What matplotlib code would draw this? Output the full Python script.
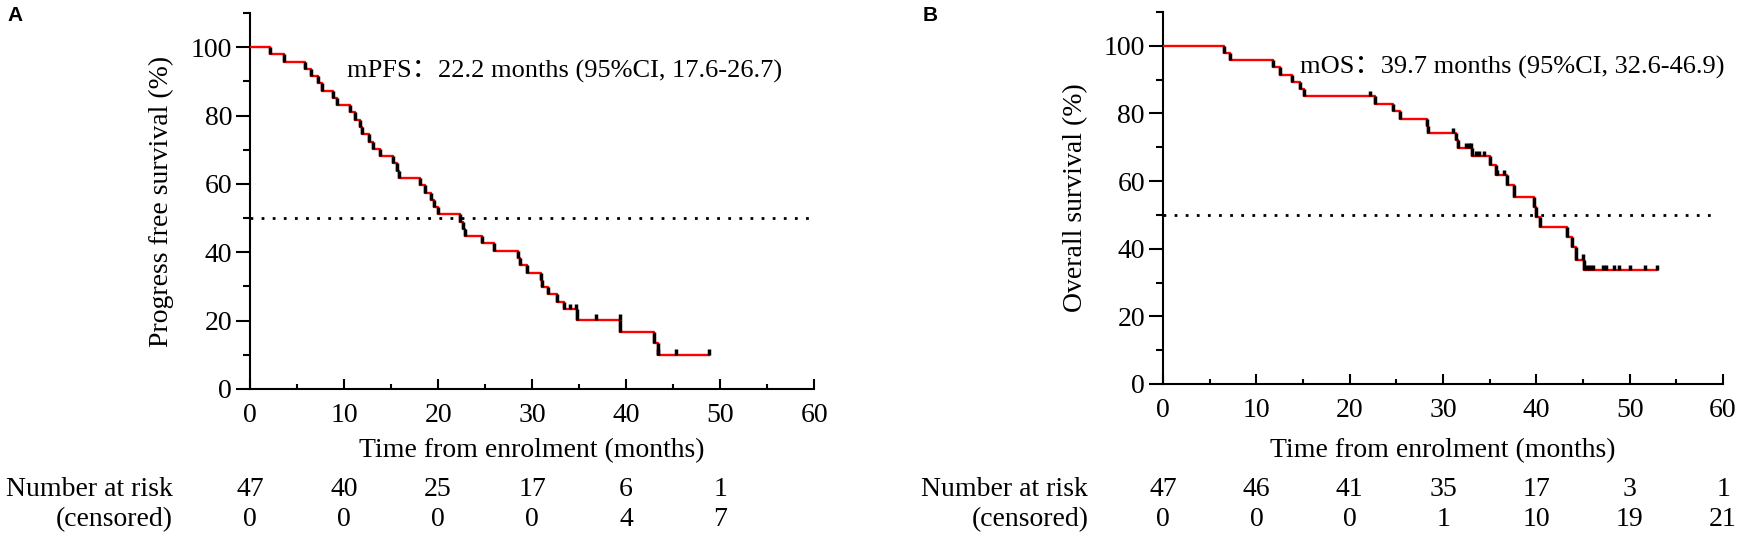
import matplotlib.pyplot as plt
import numpy as np
from matplotlib.transforms import blended_transform_factory

plt.rcParams['font.family'] = ['Liberation Serif', 'Noto Sans CJK SC']

# --- panel A: progression free survival (step times in months, survival %)
pfs_time = [0, 2.1, 3.65, 5.85, 6.5, 7.2, 7.7, 8.87, 9.2, 10.6, 11.2, 11.7, 11.9,
            12.6, 13.1, 13.8, 15.25, 15.6, 15.8, 18.1, 18.6, 19.2, 19.6, 20.0,
            22.3, 22.6, 22.9, 24.65, 25.9, 28.5, 28.7, 29.5, 30.9, 31.1, 31.7,
            32.6, 33.4, 34.8, 39.4, 43.0, 43.4]
pfs_surv = [100, 97.9, 95.7, 93.6, 91.5, 89.4, 87.2, 85.1, 83.0, 80.9, 78.7, 76.6,
            74.5, 72.3, 70.2, 68.1, 66.0, 63.8, 61.7, 59.6, 57.4, 55.3, 53.2, 51.1,
            48.9, 46.8, 44.7, 42.6, 40.4, 38.3, 36.2, 34.0, 31.9, 29.8, 27.7, 25.5,
            23.4, 20.2, 16.6, 13.6, 10.0]
pfs_end = 48.8
pfs_cens = [34.0, 34.7, 36.8, 39.3, 43.4, 45.3, 48.8]
pfs_risk = [47, 40, 25, 17, 6, 1]
pfs_censored = [0, 0, 0, 0, 4, 7]

# --- panel B: overall survival
os_time = [0, 6.54, 7.2, 11.75, 12.5, 13.8, 14.65, 15.1, 22.7, 24.6, 25.35, 28.25,
           28.4, 31.4, 31.6, 33.1, 35.0, 35.7, 36.8, 37.6, 39.7, 40.0, 40.4, 43.25,
           43.8, 44.2, 45.1]
os_surv = [100, 97.9, 95.7, 93.6, 91.5, 89.4, 87.2, 85.1, 82.9, 80.7, 78.5, 76.3,
           74.2, 72.2, 69.8, 67.3, 64.8, 61.8, 58.9, 55.4, 52.4, 49.3, 46.4, 43.5,
           40.5, 36.8, 33.6]
os_end = 52.9
os_cens = [22.2, 31.1, 32.5, 32.8, 33.0, 33.5, 33.9, 34.4, 35.8, 36.5, 45.0, 45.4,
           45.76, 46.1, 47.1, 47.5, 48.3, 48.8, 50.0, 51.6, 52.9]
os_risk = [47, 46, 41, 35, 17, 3, 1]
os_censored = [0, 0, 0, 1, 10, 19, 21]

risk_times_A = [0, 10, 20, 30, 40, 50]
risk_times_B = [0, 10, 20, 30, 40, 50, 60]

FS = 20

fig = plt.figure(figsize=(17.55, 5.39), dpi=100)
axA = fig.add_axes([0.1425, 0.2783, 0.3214, 0.6976])
axB = fig.add_axes([0.6627, 0.2876, 0.3191, 0.6901])


def km(ax, t, s, end, cens):
    tt = list(t) + [end]
    ss = list(s) + [s[-1]]
    ax.step(tt, ss, where='post', color='#ff0000', lw=1.7, zorder=3)
    ax.vlines(t[1:], s[1:], s[:-1], color='black', lw=2.5, zorder=4)
    idx = np.searchsorted(t, cens, side='right') - 1
    lev = np.array(s)[idx]
    ax.vlines(cens, lev, lev + 1.6, color='black', lw=2.5, zorder=4)
    ax.plot([0, 59.5], [50, 50], color='black', lw=2, linestyle=(0, (1, 3)), zorder=2)


def style(ax):
    ax.set_xlim(0, 60)
    ax.set_ylim(0, 110)
    for sp in ['top', 'right']:
        ax.spines[sp].set_visible(False)
    for sp in ['left', 'bottom']:
        ax.spines[sp].set_linewidth(1.5)
    ax.set_xticks(range(0, 61, 10))
    ax.set_xticks(range(5, 60, 10), minor=True)
    ax.set_yticks(range(0, 101, 20))
    ax.set_yticks(range(10, 111, 20), minor=True)
    ax.tick_params(axis='y', which='major', direction='out', length=10, width=1.5,
                   labelsize=FS, pad=3)
    ax.tick_params(axis='y', which='minor', direction='out', length=5, width=1.5)
    ax.tick_params(axis='x', which='major', direction='in', length=7, width=1.5,
                   labelsize=FS, pad=10)
    ax.tick_params(axis='x', which='minor', direction='in', length=3.6, width=1.5)


def table(ax, times, risk, cens, xlab, y1, y2):
    tr = blended_transform_factory(ax.transData, fig.transFigure)
    ax.text(xlab, y1, 'Number at risk', transform=tr, ha='right', va='center',
            fontsize=FS, clip_on=False)
    ax.text(xlab, y2, '(censored)', transform=tr, ha='right', va='center',
            fontsize=FS, clip_on=False)
    for t, r, c in zip(times, risk, cens):
        ax.text(t, y1, str(r), transform=tr, ha='center', va='center', fontsize=FS)
        ax.text(t, y2, str(c), transform=tr, ha='center', va='center', fontsize=FS)


km(axA, pfs_time, pfs_surv, pfs_end, pfs_cens)
style(axA)
axA.set_ylabel('Progress free survival (%)', fontsize=FS, va='center')
axA.yaxis.set_label_coords(-0.157, 0.5)
axA.set_xlabel('Time from enrolment (months)', fontsize=FS, va='center')
axA.xaxis.set_label_coords(0.5, -0.165)
axA.text(10.3, 93.0, 'mPFS：22.2 months (95%CI, 17.6-26.7)', fontsize=19,
         va='center', ha='left')
table(axA, risk_times_A, pfs_risk, pfs_censored, -8.2, 1 - 490 / 539, 1 - 520 / 539)

km(axB, os_time, os_surv, os_end, os_cens)
style(axB)
axB.set_ylabel('Overall survival (%)', fontsize=FS, va='center')
axB.yaxis.set_label_coords(-0.157, 0.5)
axB.set_xlabel('Time from enrolment (months)', fontsize=FS, va='center')
axB.xaxis.set_label_coords(0.5, -0.178)
axB.text(14.7, 93.7, 'mOS：39.7 months (95%CI, 32.6-46.9)', fontsize=19,
         va='center', ha='left')
table(axB, risk_times_B, os_risk, os_censored, -8.0, 1 - 490 / 539, 1 - 520 / 539)

fig.text(7 / 1755, 1 - 15.5 / 539, 'A', fontsize=15, fontweight='bold',
         family='Liberation Sans', ha='left', va='center')
fig.text(923 / 1755, 1 - 15.5 / 539, 'B', fontsize=15, fontweight='bold',
         family='Liberation Sans', ha='left', va='center')

fig.savefig('out.png', dpi=100)
